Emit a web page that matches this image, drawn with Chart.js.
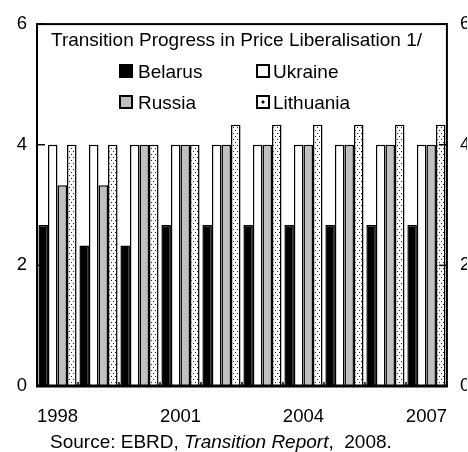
<!DOCTYPE html>
<html><head><meta charset="utf-8">
<script src="https://cdn.jsdelivr.net/npm/chart.js@4"></script>
<style>
html,body{margin:0;padding:0;background:#fff;}
#wrap{position:relative;width:468px;height:452px;overflow:hidden;font-family:"Liberation Sans",Arial,sans-serif;color:#000;}
canvas{position:absolute;left:0;top:0;}
.t{position:absolute;white-space:nowrap;font-size:19px;line-height:19px;}
.box{position:absolute;width:10px;height:10px;border:2px solid #000;}
</style></head>
<body><div id="wrap"><canvas id="c" width="468" height="452"></canvas>
<div class="t" style="left:51px;top:30px">Transition Progress in Price Liberalisation 1/</div>
<div class="box" style="left:119px;top:64px;background:#000"></div>
<div class="t" style="left:138px;top:62px">Belarus</div>
<div class="box" style="left:256px;top:64px;background:#fff"></div>
<div class="t" style="left:273px;top:62px">Ukraine</div>
<div class="box" style="left:119px;top:95px;background:#c0c0c0"></div>
<div class="t" style="left:138px;top:93px">Russia</div>
<div class="box" style="left:256px;top:95px;background:#fff radial-gradient(circle at center,#000 1.3px,transparent 1.8px)"></div>
<div class="t" style="left:273px;top:93px">Lithuania</div>
<div class="t" style="left:50px;top:432px">Source: EBRD, <i>Transition Report</i>,&nbsp; 2008.</div>
</div>
<script>
const years = ['1998','1999','2000','2001','2002','2003','2004','2005','2006','2007'];
const belarus   = [2.67, 2.33, 2.33, 2.67, 2.67, 2.67, 2.67, 2.67, 2.67, 2.67];
const ukraine   = [4, 4, 4, 4, 4, 4, 4, 4, 4, 4];
const russia    = [3.33, 3.33, 4, 4, 4, 4, 4, 4, 4, 4];
const lithuania = [4, 4, 4, 4, 4.33, 4.33, 4.33, 4.33, 4.33, 4.33];
const yMin = 0, yMax = 6, yStep = 2;
const labelEvery = 3;

function dotPattern(){
  const c = document.createElement('canvas');
  c.width = 4; c.height = 6;
  const g = c.getContext('2d');
  g.fillStyle = '#fff'; g.fillRect(0,0,4,6);
  g.fillStyle = '#222';
  g.fillRect(1,1,1,1);
  g.fillRect(3,4,1,1);
  return g.createPattern(c,'repeat');
}

const font = {family:'"Liberation Sans", Arial, sans-serif', size:18.5};

const framePlugin = {
  id:'frame',
  afterDatasetsDraw(chart){
    const {ctx, chartArea:a, scales} = chart;
    const line=(x1,y1,x2,y2)=>{ctx.beginPath();ctx.moveTo(x1,y1);ctx.lineTo(x2,y2);ctx.stroke();};
    ctx.save();
    ctx.strokeStyle='#000';
    ctx.lineWidth=1.5;
    scales.y.ticks.forEach(t=>{
      const p=scales.y.getPixelForValue(t.value);
      line(a.left,p,a.left+8,p);
      line(a.right-8,p,a.right,p);
    });
    for(let i=1;i<years.length;i++){
      const p=(scales.x.getPixelForValue(i-1)+scales.x.getPixelForValue(i))/2;
      line(p,a.bottom,p,a.bottom-4);
    }
    ctx.lineWidth=2;
    ctx.strokeRect(a.left,a.top,a.right-a.left,a.bottom-a.top);
    ctx.lineWidth=3;
    line(a.left-1,a.bottom,a.right+1,a.bottom);
    ctx.restore();
  }
};

const common = {borderColor:'#000', borderWidth:1.5, categoryPercentage:0.93, barPercentage:1};
new Chart(document.getElementById('c'), {
  type:'bar',
  data:{
    labels: years,
    datasets:[
      {label:'Belarus', data:belarus, backgroundColor:'#000', ...common},
      {label:'Ukraine', data:ukraine, backgroundColor:'#fff', ...common},
      {label:'Russia', data:russia, backgroundColor:'#c0c0c0', ...common},
      {label:'Lithuania', data:lithuania, backgroundColor:dotPattern(), ...common}
    ]
  },
  options:{
    responsive:false, animation:false, devicePixelRatio:1,
    layout:{padding:{top:21,left:0,right:0,bottom:0}},
    plugins:{legend:{display:false}, title:{display:false}, tooltip:{enabled:false}},
    scales:{
      x:{offset:true, grid:{display:false, drawTicks:false}, border:{display:false},
         ticks:{autoSkip:false, maxRotation:0, padding:20, font, color:'#000',
                callback:(v,i)=> i%labelEvery===0 ? years[i] : ''},
         afterFit:s=>{s.height=66;}},
      y:{position:'left', min:yMin, max:yMax, grid:{display:false, drawTicks:false}, border:{display:false},
         ticks:{stepSize:yStep, padding:10, font, color:'#000'},
         afterFit:s=>{s.width=37;}},
      y2:{position:'right', min:yMin, max:yMax, grid:{display:false, drawTicks:false}, border:{display:false},
         ticks:{stepSize:yStep, padding:13, font, color:'#000'},
         afterFit:s=>{s.width=20;}}
    }
  },
  plugins:[framePlugin]
});
</script>
</body></html>
